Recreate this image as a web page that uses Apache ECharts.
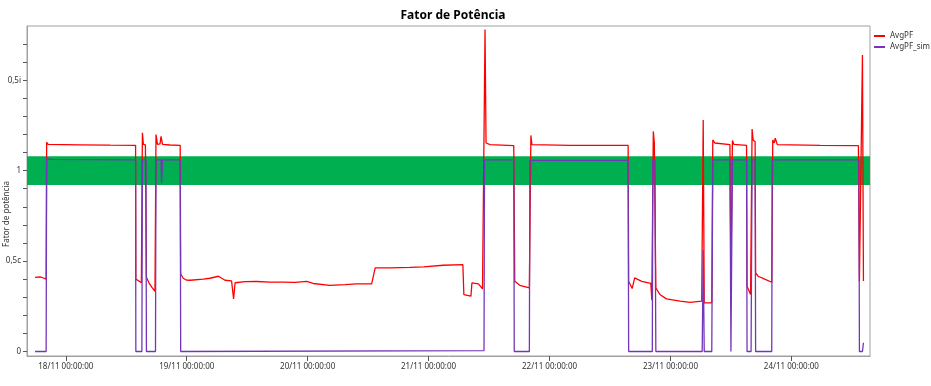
<!DOCTYPE html>
<html>
<head>
<meta charset="utf-8">
<script src="https://cdn.jsdelivr.net/npm/echarts@6/dist/echarts.min.js"></script>
<style>
  html, body { margin: 0; padding: 0; background: #fff; }
  #chart { width: 931px; height: 386px; }
</style>
</head>
<body>
<div id="chart"></div>
<script>
// eixo X em horas a partir de 18/11 00:00
var baseDay = 18;
var xMinHours = -7.7;
var xMaxHours = 159.6;
var dayTicks = [0, 24, 48, 72, 96, 120, 144];

// eixo Y: 0 .. 1 (capacitivo) .. 0,5i (indutivo)
var yTicks = [0, 0.1, 0.2, 0.3, 0.4, 0.5, 0.6, 0.7, 0.8, 0.9, 1, 1.1, 1.2, 1.3, 1.4, 1.5, 1.6, 1.7];
var yLabelValues = [0, 0.5, 1, 1.5];
var yLabelText = ['0', '0,5c', '1', '0,5i'];

// faixa verde
var bandRange = [0.92, 1.08];

// AvgPF
var pfHours = [-6.1, -5.1, -4.3, -3.9, -3.8, -3.5, 2.8, 8.8, 13.85, 13.9, 14.5, 15.0, 15.2, 15.4, 15.8,
  16.0, 16.5, 17.1, 17.7, 17.9, 18.2, 18.7, 18.9, 19.2, 20.7, 22.7, 22.8, 23.3, 23.9, 24.7, 27.3,
  28.6, 30.3, 31.6, 32.9, 33.3, 33.6, 35.6, 37.9, 40.5, 43.2, 45.5, 47.8, 49.1, 52.4, 55.4, 57.7,
  60.7, 61.4, 64.3, 68.3, 71.0, 74.9, 78.8, 79.0, 80.4, 80.6, 81.9, 82.7, 83.0, 83.2, 83.4, 84.2,
  88.9, 89.1, 90.1, 92.0, 92.3, 92.5, 100.1, 111.6, 111.7, 112.4, 112.9, 114.3, 116.1, 116.3, 116.6,
  116.8, 117.1, 117.9, 119.2, 121.9, 123.9, 126.2, 126.5, 126.7, 128.2, 128.4, 128.8, 131.8, 132.0,
  132.3, 132.6, 135.1, 135.2, 135.9, 136.2, 136.4, 136.8, 136.9, 137.4, 138.7, 140.1, 140.3, 140.6,
  140.8, 141.2, 149.7, 157.3, 157.5, 158.1, 158.3];
var pfValues = [0.41, 0.412, 0.405, 0.40, 1.157, 1.145, 1.143, 1.141, 1.14, 0.40, 0.39, 0.38, 1.21, 1.145, 1.142,
  0.41, 0.38, 0.355, 0.333, 1.20, 1.145, 1.148, 1.19, 1.145, 1.142, 1.14, 0.43, 0.405, 0.395, 0.394, 0.40,
  0.405, 0.416, 0.394, 0.39, 0.29, 0.38, 0.386, 0.387, 0.384, 0.383, 0.382, 0.388, 0.376, 0.366, 0.37, 0.374,
  0.374, 0.462, 0.462, 0.465, 0.468, 0.477, 0.48, 0.315, 0.306, 0.38, 0.374, 0.346, 0.34, 1.78, 1.153, 1.144,
  1.138, 0.388, 0.366, 0.352, 1.195, 1.144, 1.14, 1.14, 0.388, 0.348, 0.407, 0.388, 0.376, 0.284, 1.217,
  1.153, 0.352, 0.315, 0.291, 0.278, 0.272, 0.278, 1.28, 0.269, 0.269, 1.17, 1.153, 1.144, 0.44,
  1.167, 1.145, 1.14, 0.361, 0.315, 1.23, 1.17, 1.16, 0.435, 0.416, 0.40, 0.383, 1.17, 1.153,
  1.18, 1.144, 1.14, 1.138, 0.388, 1.64, 0.39];

// AvgPF_sim
var simHours = [-6.1, -3.9, -3.8, -3.1, 13.85, 13.9, 15.1, 15.2, 15.9, 16.0, 17.8, 17.9, 18.9, 19.0, 19.2,
  22.7, 22.8, 83.0, 83.1, 88.9, 89.0, 92.0, 92.1, 111.6, 111.7, 116.4, 116.5, 116.9, 117.1, 126.3,
  126.5, 126.7, 128.2, 128.4, 131.8, 132.0, 132.3, 135.1, 135.2, 136.0, 136.2, 136.8, 136.9, 140.1,
  140.2, 157.4, 157.5, 158.1, 158.3];
var simValues = [0, 0, 1.066, 1.062, 1.06, 0, 0, 1.06, 1.06, 0, 0, 1.06, 1.06, 0.93, 1.06,
  1.06, 0, 0.005, 1.06, 1.06, 0, 0, 1.057, 1.057, 0, 0, 1.06, 1.06, 0, 0,
  0.56, 0, 0, 1.06, 1.06, 0, 1.06, 1.06, 0, 0, 1.06, 1.06, 0, 0,
  1.06, 1.06, 0, 0, 0.048];

function pairs(xs, ys) {
  var out = [];
  for (var i = 0; i < xs.length; i++) out.push([xs[i], ys[i]]);
  return out;
}
function pad(n) { return (n < 10 ? '0' : '') + n; }

var chart = echarts.init(document.getElementById('chart'));
var fontFam = 'Noto Sans, sans-serif';
chart.setOption({
  animation: false,
  backgroundColor: '#fff',
  title: {
    text: 'Fator de Potência',
    left: 448, top: 5, textAlign: 'center',
    textStyle: { fontSize: 12, fontWeight: 'bold', color: '#000', fontFamily: fontFam }
  },
  legend: {
    orient: 'vertical', left: 874, top: 32, padding: 0,
    itemWidth: 11, itemHeight: 2, itemGap: 3,
    icon: 'rect',
    textStyle: { fontSize: 8, color: '#333', fontFamily: fontFam },
    data: ['AvgPF', 'AvgPF_sim']
  },
  // título do eixo Y
  graphic: [{
    type: 'text', x: 3, y: 214, rotation: Math.PI / 2,
    style: {
      text: 'Fator de potência', fontSize: 8, fill: '#333', fontFamily: fontFam,
      align: 'center', verticalAlign: 'top'
    }
  }],
  grid: {
    left: 27, right: 61, top: 26, bottom: 30,
    containLabel: false, outerBoundsMode: 'none',
    show: true, borderColor: '#a0a0a0', borderWidth: 1
  },
  xAxis: {
    type: 'value', min: xMinHours, max: xMaxHours,
    splitLine: { show: false },
    axisLine: { onZero: false, lineStyle: { color: '#a0a0a0' } },
    axisTick: { customValues: dayTicks, length: 5, lineStyle: { color: '#555' } },
    axisLabel: {
      customValues: dayTicks, fontSize: 8, color: '#333', fontFamily: fontFam, margin: 7,
      formatter: function (h) { return pad(baseDay + Math.round(h / 24)) + '/11 00:00:00'; }
    }
  },
  yAxis: {
    type: 'value', min: -0.025, max: 1.8,
    splitLine: { show: false },
    axisLine: { show: true, onZero: false, lineStyle: { color: '#a0a0a0' } },
    axisTick: { customValues: yTicks, length: 4, lineStyle: { color: '#555' } },
    axisLabel: {
      customValues: yLabelValues, fontSize: 8, color: '#333', fontFamily: fontFam, margin: 6,
      formatter: function (v) {
        for (var i = 0; i < yLabelValues.length; i++) {
          if (Math.abs(v - yLabelValues[i]) < 1e-6) return yLabelText[i];
        }
        return '';
      }
    }
  },
  series: [
    {
      name: 'AvgPF', type: 'line', symbol: 'none', color: '#ff0000',
      lineStyle: { width: 1.3, color: '#ff0000' },
      data: pairs(pfHours, pfValues),
      markArea: {
        silent: true,
        itemStyle: { color: '#00b050', opacity: 1 },
        data: [[{ yAxis: bandRange[0] }, { yAxis: bandRange[1] }]]
      }
    },
    {
      name: 'AvgPF_sim', type: 'line', symbol: 'none', color: '#7436b8',
      lineStyle: { width: 1.3, color: '#7436b8' },
      data: pairs(simHours, simValues)
    }
  ]
});
</script>
</body>
</html>
